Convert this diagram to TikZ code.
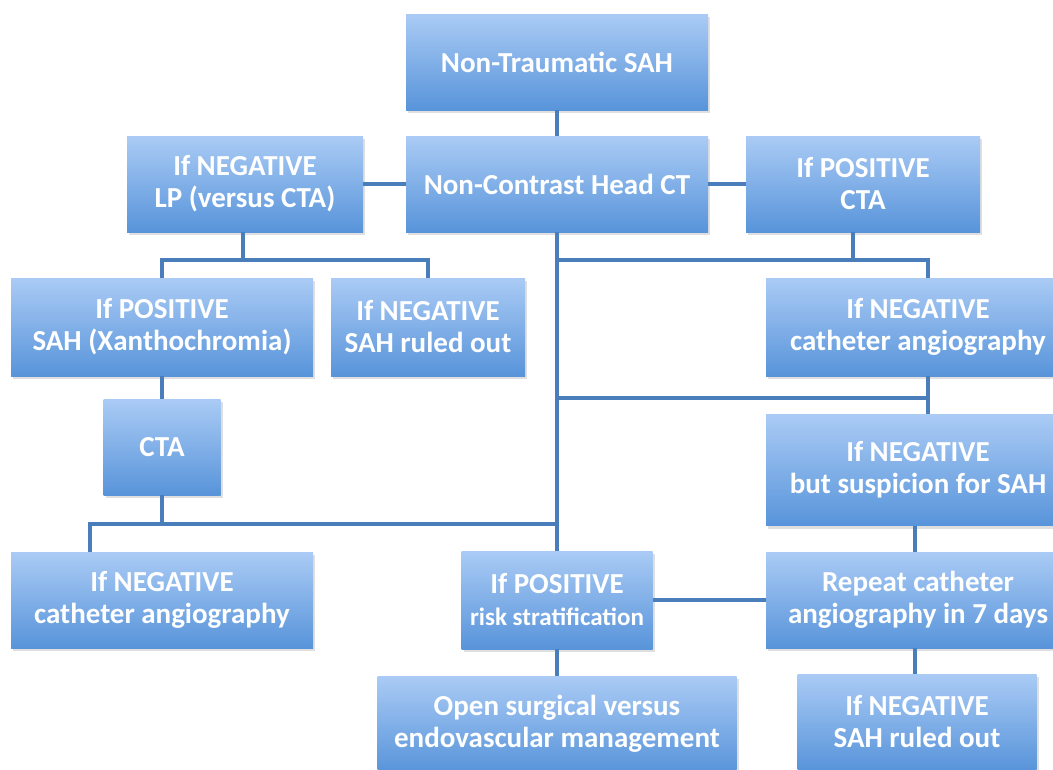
\documentclass[tikz,border=0pt]{standalone}
\usepackage{fontspec}
\setmainfont{Carlito}
\usepackage{xcolor}
\usetikzlibrary{shadows, positioning, calc}
\definecolor{boxtop}{RGB}{170, 203, 245}
\definecolor{boxbottom}{RGB}{88, 148, 218}
\definecolor{linkblue}{RGB}{74, 126, 187}

\tikzset{
    flowbox/.style={rectangle, top color=boxtop, bottom color=boxbottom, draw=none,
        text=white, align=center, inner sep=0pt,
        font=\bfseries\fontsize{29}{32}\selectfont,
        drop shadow={shadow xshift=2pt, shadow yshift=-3pt, opacity=0.25}},
    link/.style={linkblue, line width=3.5pt}
}

\begin{document}
\begin{tikzpicture}[x=1pt, y=-1pt]
    \useasboundingbox (0,0) rectangle (1053,769);

    % Top column
    \node[flowbox, minimum width=302pt, minimum height=96pt] (sah) at (557,62) {Non-Traumatic SAH};
    \node[flowbox, minimum width=302pt, minimum height=96pt] (ct) at (557,184) {Non-Contrast Head CT};
    \node[flowbox, minimum width=236pt, minimum height=96pt] (lp) at (245,184) {If NEGATIVE\\LP (versus CTA)};
    \node[flowbox, minimum width=234pt, minimum height=96pt] (cta) at (863,184) {If POSITIVE\\CTA};

    % Left side (lumbar puncture)
    \node[flowbox, minimum width=302pt, minimum height=98pt] (xan) at (162,327) {If POSITIVE\\SAH (Xanthochromia)};
    \node[flowbox, minimum width=194pt, minimum height=98pt] (rulea) at (428,327) {If NEGATIVE\\SAH ruled out};
    \node[flowbox, minimum width=117pt, minimum height=96pt] (ctab) at (162,447) {CTA};
    \node[flowbox, minimum width=302pt, minimum height=96pt] (cathl) at (162,600) {If NEGATIVE\\catheter angiography};

    % Right side (angiography)
    \node[flowbox, minimum width=304pt, minimum height=98pt] (cathr) at (918,327) {If NEGATIVE\\catheter angiography};
    \node[flowbox, minimum width=304pt, minimum height=111pt] (susp) at (918,470) {If NEGATIVE\\but suspicion for SAH};
    \node[flowbox, minimum width=304pt, minimum height=96pt] (repeat) at (918,600) {Repeat catheter\\angiography in 7 days};
    \node[flowbox, minimum width=239pt, minimum height=96pt] (ruleb) at (917,722) {If NEGATIVE\\SAH ruled out};

    % Bottom (treatment)
    \node[flowbox, minimum width=191pt, minimum height=98pt] (risk) at (557,600) {If POSITIVE\\{\fontsize{25}{30}\selectfont risk stratification}};
    \node[flowbox, minimum width=359pt, minimum height=96pt] (open) at (557,724) {Open surgical versus\\endovascular management};

    % Junction rows
    \coordinate (rowa) at (0,260);
    \coordinate (rowb) at (0,398);
    \coordinate (rowc) at (0,524);

    % Connectors
    \draw[link] (sah) -- (ct);
    \draw[link] (lp) -- (ct);
    \draw[link] (ct) -- (cta);
    \draw[link] ([xshift=-2pt]lp.south) -- ([xshift=-2pt]lp.south |- rowa);
    \draw[link] (xan.north) -- (xan.north |- rowa) -| (rulea.north);
    \draw[link] (ct) -- (risk);
    \draw[link] ([xshift=-10pt]cta.south) -- ([xshift=-10pt]cta.south |- rowa);
    \draw[link] (ct.south |- rowa) -| ([xshift=10pt]cathr.north);
    \draw[link] ([xshift=10pt]cathr.south) -- ([xshift=10pt]susp.north);
    \draw[link] (ct.south |- rowb) -- ([xshift=10pt]cathr.south |- rowb);
    \draw[link] ([xshift=-3pt]susp.south) -- ([xshift=-3pt]repeat.north);
    \draw[link] (risk) -- (repeat);
    \draw[link] ([xshift=-3pt]repeat.south) -- ([xshift=-3pt]repeat.south |- ruleb.north);
    \draw[link] (risk) -- (open);
    \draw[link] (xan) -- (ctab);
    \draw[link] (ctab.south) -- (ctab.south |- rowc);
    \draw[link] (ct.south |- rowc) -| ([xshift=-72pt]cathl.north);
\end{tikzpicture}
\end{document}
